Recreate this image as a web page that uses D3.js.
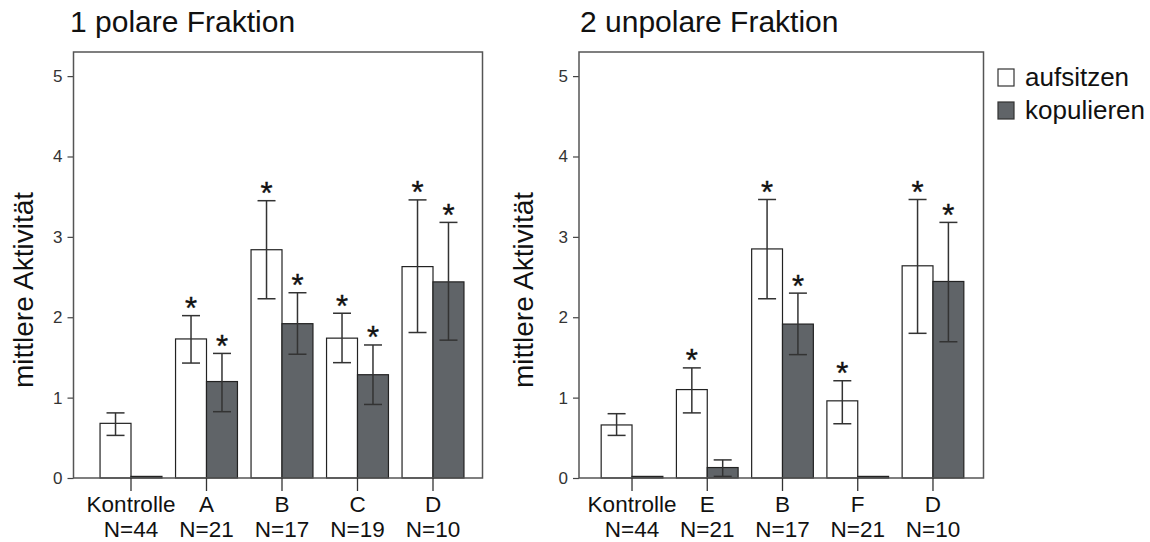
<!DOCTYPE html>
<html>
<head>
<meta charset="utf-8">
<script src="https://cdn.jsdelivr.net/npm/d3@7/dist/d3.min.js"></script>
<style>
  html, body { margin: 0; padding: 0; background: #fff; }
  svg { display: block; font-family: "Liberation Sans", Arial, Helvetica, sans-serif; }
</style>
</head>
<body>
<svg id="chart" width="1150" height="542"></svg>
<script>
// ---- Data: polar fraction ----
const polarCategories = ["Kontrolle", "A", "B", "C", "D"];
const polarN = ["N=44", "N=21", "N=17", "N=19", "N=10"];
const polarAufsitzen = [0.68, 1.73, 2.84, 1.74, 2.63];
const polarAufsitzenLow = [0.53, 1.43, 2.23, 1.435, 1.81];
const polarAufsitzenHigh = [0.81, 2.02, 3.45, 2.05, 3.46];
const polarAufsitzenSig = [false, true, true, true, true];
const polarKopulieren = [0.02, 1.20, 1.92, 1.285, 2.44];
const polarKopulierenLow = [null, 0.825, 1.54, 0.915, 1.715];
const polarKopulierenHigh = [null, 1.55, 2.305, 1.655, 3.18];
const polarKopulierenSig = [false, true, true, true, true];

// ---- Data: non-polar fraction ----
const unpolarCategories = ["Kontrolle", "E", "B", "F", "D"];
const unpolarN = ["N=44", "N=21", "N=17", "N=21", "N=10"];
const unpolarAufsitzen = [0.66, 1.10, 2.85, 0.96, 2.64];
const unpolarAufsitzenLow = [0.53, 0.81, 2.23, 0.675, 1.80];
const unpolarAufsitzenHigh = [0.80, 1.37, 3.465, 1.21, 3.465];
const unpolarAufsitzenSig = [false, true, true, true, true];
const unpolarKopulieren = [0.02, 0.13, 1.915, 0.02, 2.445];
const unpolarKopulierenLow = [null, 0.02, 1.535, null, 1.695];
const unpolarKopulierenHigh = [null, 0.225, 2.30, null, 3.18];
const unpolarKopulierenSig = [false, false, true, false, true];

const yTicks = [0, 1, 2, 3, 4, 5];
const yMax = 5.3;
const seriesNames = ["aufsitzen", "kopulieren"];
const seriesFill = ["#ffffff", "#606468"];
const yTitle = "mittlere Aktivität";

const svg = d3.select("#chart");

const y = d3.scaleLinear().domain([0, yMax]).range([478, 52]);

function drawPanel(opts) {
  const g = svg.append("g");
  const x = d3.scaleBand()
    .domain(opts.categories)
    .range(opts.range)
    .paddingInner(0.18)
    .paddingOuter(0.09);
  const bw = x.bandwidth() / 2;

  // title
  g.append("text")
    .attr("x", opts.titleX).attr("y", 32)
    .attr("font-size", 30).attr("fill", "#111")
    .text(opts.title);

  // y title
  g.append("text")
    .attr("transform", `translate(${opts.yTitleX},290) rotate(-90)`)
    .attr("text-anchor", "middle")
    .attr("font-size", 28).attr("fill", "#111")
    .text(yTitle);

  // y axis
  const yAxis = g.append("g")
    .attr("transform", `translate(${opts.box[0]},0)`)
    .call(d3.axisLeft(y).tickValues(yTicks).tickSize(6).tickPadding(5).tickFormat(d3.format("d")));
  yAxis.select(".domain").remove();
  yAxis.selectAll(".tick line").attr("stroke", "#444").attr("stroke-width", 1.2);
  yAxis.selectAll(".tick text").attr("font-size", 17).attr("fill", "#333")
    .attr("font-family", "Liberation Sans, Arial, sans-serif");

  // bars
  const series = [
    { vals: opts.auf, lo: opts.aufLo, hi: opts.aufHi, sig: opts.aufSig, dx: 0, fill: seriesFill[0] },
    { vals: opts.kop, lo: opts.kopLo, hi: opts.kopHi, sig: opts.kopSig, dx: bw, fill: seriesFill[1] }
  ];
  series.forEach(s => {
    const items = opts.categories.map((c, i) => ({ c, v: s.vals[i], lo: s.lo[i], hi: s.hi[i], sig: s.sig[i] }));
    g.selectAll(null).data(items).enter().append("rect")
      .attr("x", d => x(d.c) + s.dx)
      .attr("y", d => y(d.v))
      .attr("width", bw)
      .attr("height", d => y(0) - y(d.v))
      .attr("fill", s.fill)
      .attr("stroke", "#222")
      .attr("stroke-width", 1.2);

    const eb = items.filter(d => d.hi !== null);
    const cx = d => x(d.c) + s.dx + bw / 2;
    g.selectAll(null).data(eb).enter().append("line")
      .attr("x1", cx).attr("x2", cx)
      .attr("y1", d => y(d.lo)).attr("y2", d => y(d.hi))
      .attr("stroke", "#333").attr("stroke-width", 1.5);
    ["lo", "hi"].forEach(k => {
      g.selectAll(null).data(eb).enter().append("line")
        .attr("x1", d => cx(d) - 9).attr("x2", d => cx(d) + 9)
        .attr("y1", d => y(d[k])).attr("y2", d => y(d[k]))
        .attr("stroke", "#333").attr("stroke-width", 1.5);
    });
    g.selectAll(null).data(eb.filter(d => d.sig)).enter().append("text")
      .attr("x", cx)
      .attr("y", d => y(d.hi) + 3.5)
      .attr("text-anchor", "middle")
      .attr("font-size", 31)
      .attr("fill", "#111")
      .attr("stroke", "#111").attr("stroke-width", 0.4)
      .text("*");
  });

  // frame
  g.append("rect")
    .attr("x", opts.box[0]).attr("y", y(yMax))
    .attr("width", opts.box[1] - opts.box[0])
    .attr("height", y(0) - y(yMax))
    .attr("fill", "none").attr("stroke", "#555").attr("stroke-width", 1.5);

  // category ticks
  const xAxis = g.append("g")
    .attr("transform", `translate(0,${y(0)})`)
    .call(d3.axisBottom(x).tickSize(13).tickFormat(""));
  xAxis.select(".domain").remove();
  xAxis.selectAll(".tick line").attr("stroke", "#333").attr("stroke-width", 1.3);

  // category labels
  const labels = g.selectAll(null).data(opts.categories).enter();
  labels.append("text")
    .attr("x", d => x(d) + x.bandwidth() / 2).attr("y", 512)
    .attr("text-anchor", "middle").attr("font-size", 22.5).attr("fill", "#111")
    .text(d => d);
  labels.append("text")
    .attr("x", d => x(d) + x.bandwidth() / 2).attr("y", 537)
    .attr("text-anchor", "middle").attr("font-size", 22.5).attr("fill", "#111")
    .text((d, i) => opts.n[i]);
}

drawPanel({
  title: "1 polare Fraktion", titleX: 70, yTitleX: 33,
  box: [73.5, 482.5], range: [93.25, 470.75],
  categories: polarCategories, n: polarN,
  auf: polarAufsitzen, aufLo: polarAufsitzenLow, aufHi: polarAufsitzenHigh, aufSig: polarAufsitzenSig,
  kop: polarKopulieren, kopLo: polarKopulierenLow, kopHi: polarKopulierenHigh, kopSig: polarKopulierenSig
});

drawPanel({
  title: "2 unpolare Fraktion", titleX: 580, yTitleX: 533,
  box: [579, 983.5], range: [594.4, 970.6],
  categories: unpolarCategories, n: unpolarN,
  auf: unpolarAufsitzen, aufLo: unpolarAufsitzenLow, aufHi: unpolarAufsitzenHigh, aufSig: unpolarAufsitzenSig,
  kop: unpolarKopulieren, kopLo: unpolarKopulierenLow, kopHi: unpolarKopulierenHigh, kopSig: unpolarKopulierenSig
});

// legend
const legend = svg.append("g").attr("transform", "translate(998,69)");
seriesNames.forEach((name, i) => {
  legend.append("rect")
    .attr("x", 0).attr("y", i * 33)
    .attr("width", 16).attr("height", 17)
    .attr("fill", seriesFill[i]).attr("stroke", "#333").attr("stroke-width", 1.2);
  legend.append("text")
    .attr("x", 27).attr("y", i * 33 + 17)
    .attr("font-size", 26).attr("fill", "#111")
    .text(name);
});
</script>
</body>
</html>
